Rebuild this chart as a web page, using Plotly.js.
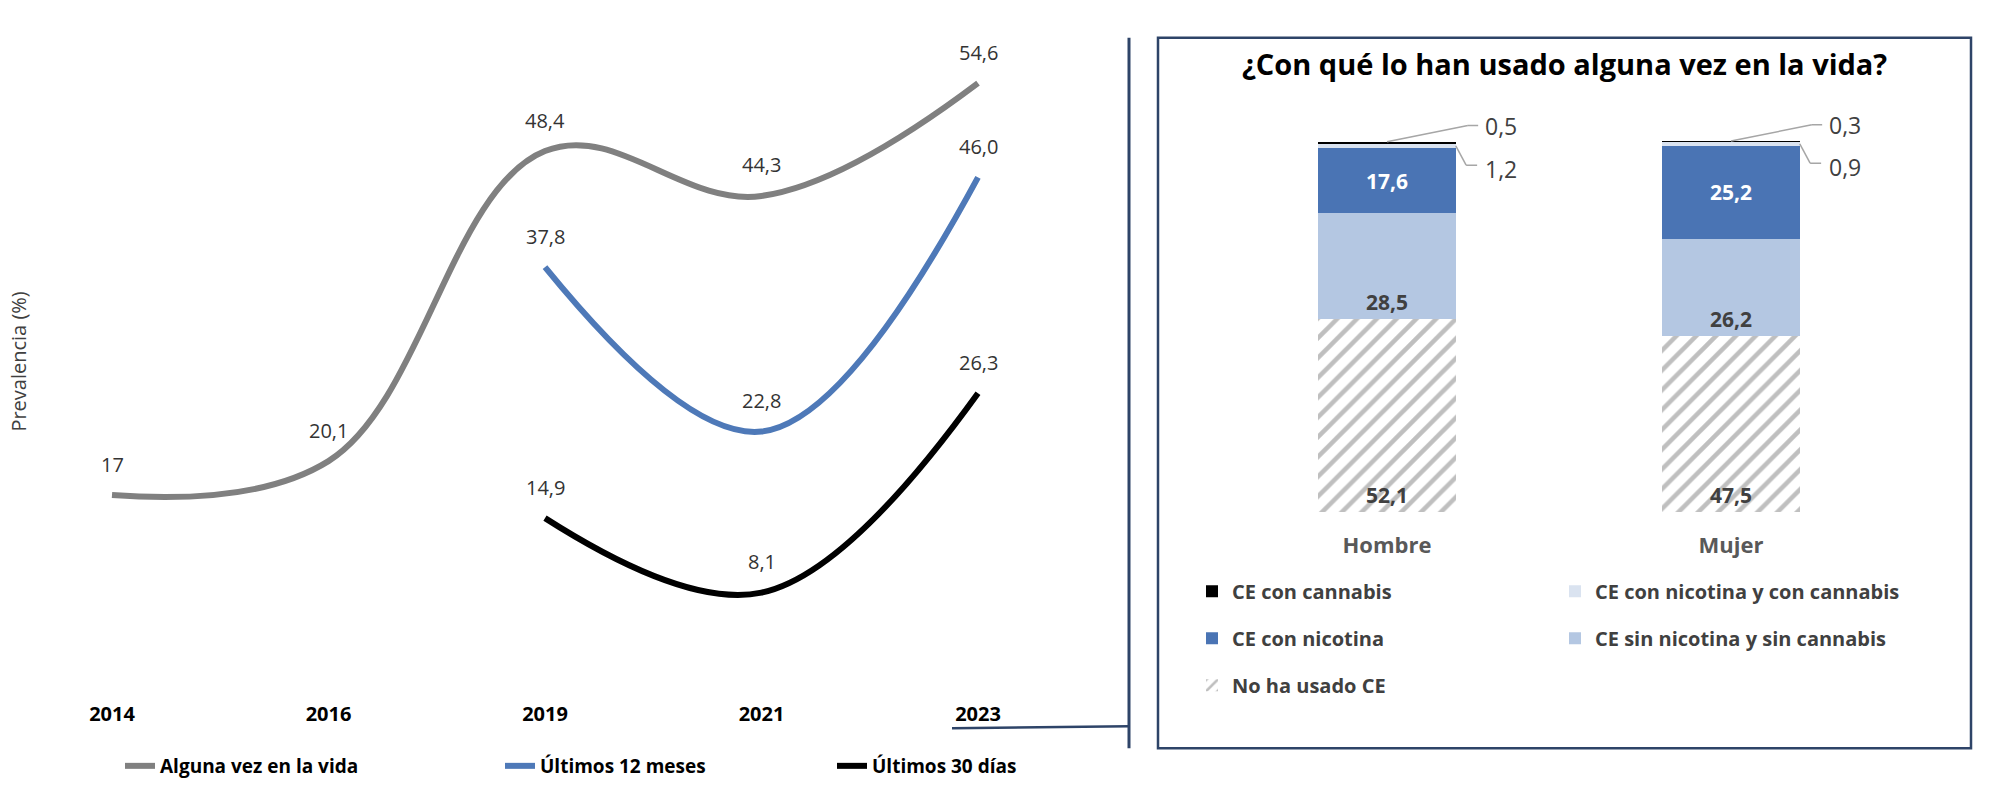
<!DOCTYPE html>
<html>
<head>
<meta charset="utf-8">
<script src="https://cdn.plot.ly/plotly-3.0.1.min.js"></script>
<style>html,body{margin:0;padding:0;background:#fff;}#chart{width:1997px;height:785px;}</style>
</head>
<body>
<div id="chart"></div>
<script>
// ---------- Left chart data ----------
const years = ['2014', '2016', '2019', '2021', '2023'];
const algunaVez = [17, 20.1, 48.4, 44.3, 54.6];
const algunaVezLabels = ['17', '20,1', '48,4', '44,3', '54,6'];
const ultimos12 = [null, null, 37.8, 22.8, 46.0];
const ultimos12Labels = ['', '', '37,8', '22,8', '46,0'];
const ultimos30 = [null, null, 14.9, 8.1, 26.3];
const ultimos30Labels = ['', '', '14,9', '8,1', '26,3'];
const lineNames = ['Alguna vez en la vida', 'Últimos 12 meses', 'Últimos 30 días'];

// ---------- Right chart data ----------
const sexo = ['Hombre', 'Mujer'];
const noUsado = [52.1, 47.5];
const sinNicSinCan = [28.5, 26.2];
const conNicotina = [17.6, 25.2];
const nicYCannabis = [1.2, 0.9];
const conCannabis = [0.5, 0.3];
const nicYCannabisLabels = ['1,2', '0,9'];
const conCannabisLabels = ['0,5', '0,3'];
const barNames = ['No ha usado CE', 'CE sin nicotina y sin cannabis', 'CE con nicotina', 'CE con nicotina y con cannabis', 'CE con cannabis'];
const chartTitle = '¿Con qué lo han usado alguna vez en la vida?';
const yTitle = 'Prevalencia (%)';

const W = 1997, H = 785;
const px = v => v / W;
const py = v => 1 - v / H;
const FONT = 'Open Sans, Roboto, sans-serif';
const fmt = v => v.toFixed(1).replace('.', ',');

const lineSeries = [
  {y: algunaVez, labels: algunaVezLabels, color: '#808080', legend: 'legend'},
  {y: ultimos12, labels: ultimos12Labels, color: '#4E79B8', legend: 'legend2'},
  {y: ultimos30, labels: ultimos30Labels, color: '#000000', legend: 'legend3'}
];

const traces = [];
const annotations = [];
lineSeries.forEach((s, k) => {
  traces.push({
    type: 'scatter', mode: 'lines', x: years, y: s.y, name: lineNames[k],
    line: {color: s.color, width: 6, shape: 'spline', smoothing: 1.1},
    xaxis: 'x', yaxis: 'y', legend: s.legend, hoverinfo: 'skip'
  });
  s.y.forEach((v, i) => {
    if (v === null) return;
    annotations.push({
      x: i, y: v, xref: 'x', yref: 'y', text: s.labels[i], showarrow: false,
      yshift: 31, xanchor: 'center', yanchor: 'middle',
      font: {family: FONT, size: 20, color: '#333333'}
    });
  });
});

const barDefs = [
  {y: noUsado, name: barNames[0], color: '#FFFFFF', text: noUsado.map(fmt), tc: '#404040', anchor: 'start', legend: 'legend4', rank: 3,
   pattern: {shape: '/', fgcolor: '#BFBFBF', bgcolor: '#FFFFFF', size: 14, solidity: 0.32}},
  {y: sinNicSinCan, name: barNames[1], color: '#B4C7E2', text: sinNicSinCan.map(fmt), tc: '#404040', anchor: 'start', legend: 'legend5', rank: 2},
  {y: conNicotina, name: barNames[2], color: '#4A74B4', text: conNicotina.map(fmt), tc: '#FFFFFF', anchor: 'middle', legend: 'legend4', rank: 2},
  {y: nicYCannabis, name: barNames[3], color: '#DAE3F0', text: null, legend: 'legend5', rank: 1},
  {y: conCannabis, name: barNames[4], color: '#000000', text: null, legend: 'legend4', rank: 1}
];
barDefs.forEach((b, k) => {
  const t = {
    type: 'bar', x: sexo, y: b.y, name: b.name, xaxis: 'x2', yaxis: 'y2',
    marker: {color: b.color, line: {width: 0}}, legend: b.legend, legendgroup: 'g' + k, legendrank: b.rank,
    hoverinfo: 'skip'
  };
  if (b.pattern) t.marker.pattern = b.pattern;
  if (b.text) {
    t.text = b.text; t.textposition = 'inside'; t.insidetextanchor = b.anchor;
    t.textfont = {family: FONT, size: 21, color: b.tc, weight: 700};
    t.constraintext = 'none';
    t.texttemplate = '%{text}';
  } else {
    t.textposition = 'none';
  }
  traces.push(t);
});

// leader lines + small labels for thin segments
const shapes = [];
const leaderColor = '#A6A6A6';
sexo.forEach((s, i) => {
  const total = noUsado[i] + sinNicSinCan[i] + conNicotina[i] + nicYCannabis[i] + conCannabis[i];
  const midNic = noUsado[i] + sinNicSinCan[i] + conNicotina[i] + nicYCannabis[i] / 2;
  const yTop = total + 4.4;
  shapes.push({type: 'line', xref: 'x2', yref: 'y2', x0: i, y0: total, x1: i + 0.235, y1: yTop, line: {color: leaderColor, width: 1.5}});
  shapes.push({type: 'line', xref: 'x2', yref: 'y2', x0: i + 0.235, y0: yTop, x1: i + 0.265, y1: yTop, line: {color: leaderColor, width: 1.5}});
  annotations.push({x: i + 0.28, y: yTop, xref: 'x2', yref: 'y2', text: conCannabisLabels[i], showarrow: false,
    xanchor: 'left', yanchor: 'middle', font: {family: FONT, size: 23, color: '#404040'}});
  const yLow = midNic - 5.2;
  shapes.push({type: 'line', xref: 'x2', yref: 'y2', x0: i + 0.2, y0: midNic, x1: i + 0.23, y1: yLow, line: {color: leaderColor, width: 1.5}});
  shapes.push({type: 'line', xref: 'x2', yref: 'y2', x0: i + 0.23, y0: yLow, x1: i + 0.262, y1: yLow, line: {color: leaderColor, width: 1.5}});
  annotations.push({x: i + 0.28, y: yLow - 1, xref: 'x2', yref: 'y2', text: nicYCannabisLabels[i], showarrow: false,
    xanchor: 'left', yanchor: 'middle', font: {family: FONT, size: 23, color: '#404040'}});
});

// frame / connector lines
const navy = '#2E4468';
shapes.push({type: 'rect', xref: 'paper', yref: 'paper', x0: px(1158), x1: px(1971), y0: py(751), y1: py(38), line: {color: navy, width: 2.5}});
shapes.push({type: 'line', xref: 'paper', yref: 'paper', x0: px(1129), x1: px(1129), y0: py(751), y1: py(38), line: {color: navy, width: 3}});
shapes.push({type: 'line', xref: 'paper', yref: 'paper', x0: px(952), x1: px(1129), y0: py(731), y1: py(729), line: {color: navy, width: 2.5}});

// titles
annotations.push({xref: 'paper', yref: 'paper', x: px(1564), y: py(64), text: chartTitle, showarrow: false,
  xanchor: 'center', yanchor: 'middle', font: {family: FONT, size: 29, color: '#000000', weight: 700}});
annotations.push({xref: 'paper', yref: 'paper', x: px(19), y: py(363), text: yTitle, showarrow: false, textangle: -90,
  xanchor: 'center', yanchor: 'middle', font: {family: FONT, size: 20, color: '#404040'}});

const legendBase = {orientation: 'h', bgcolor: 'rgba(0,0,0,0)', borderwidth: 0, xanchor: 'left', yanchor: 'middle',
  font: {family: FONT, size: 19, color: '#000000', weight: 700}, itemclick: false, itemdoubleclick: false};
const legendRight = {orientation: 'v', bgcolor: 'rgba(0,0,0,0)', borderwidth: 0, xanchor: 'left', yanchor: 'top',
  traceorder: 'grouped', tracegroupgap: 18,
  font: {family: FONT, size: 20, color: '#404040', weight: 700}, itemclick: false, itemdoubleclick: false};

// right-chart vertical scale: 0..100 spans 514px..142px, range extended above for the leader labels
const yTopRange = 110;
const pxPerUnit = (514 - 142) / 100;

const layout = {
  width: W, height: H,
  margin: {l: 0, r: 0, t: 0, b: 0},
  paper_bgcolor: '#FFFFFF', plot_bgcolor: 'rgba(0,0,0,0)',
  font: {family: FONT, color: '#000000'},
  showlegend: true,
  barmode: 'stack', bargap: 0.6,
  xaxis: {domain: [px(3.75), px(1086.25)], type: 'category', range: [-0.5, 4.5], showgrid: false, zeroline: false, showline: false,
    ticks: 'outside', ticklen: 15, tickcolor: 'rgba(0,0,0,0)',
    tickfont: {family: FONT, size: 20, color: '#000000', weight: 700}, fixedrange: true},
  yaxis: {domain: [py(684), py(24)], range: [0, 60], visible: false, fixedrange: true},
  xaxis2: {domain: [px(1215), px(1903)], anchor: 'y2', type: 'category', range: [-0.5, 1.5], showgrid: false, zeroline: false, showline: false,
    ticks: 'outside', ticklen: 14, tickcolor: 'rgba(0,0,0,0)',
    tickfont: {family: FONT, size: 22, color: '#595959', weight: 700}, fixedrange: true},
  yaxis2: {domain: [py(514), py(514 - yTopRange * pxPerUnit)], anchor: 'x2', range: [0, yTopRange], visible: false, fixedrange: true},
  legend: Object.assign({}, legendBase, {x: px(120), y: py(769)}),
  legend2: Object.assign({}, legendBase, {x: px(500), y: py(769)}),
  legend3: Object.assign({}, legendBase, {x: px(832), y: py(769)}),
  legend4: Object.assign({}, legendRight, {x: px(1192), y: py(574)}),
  legend5: Object.assign({}, legendRight, {x: px(1555), y: py(574)}),
  shapes: shapes,
  annotations: annotations,
  hovermode: false
};

Plotly.newPlot('chart', traces, layout, {displayModeBar: false, staticPlot: true});
</script>
</body>
</html>
